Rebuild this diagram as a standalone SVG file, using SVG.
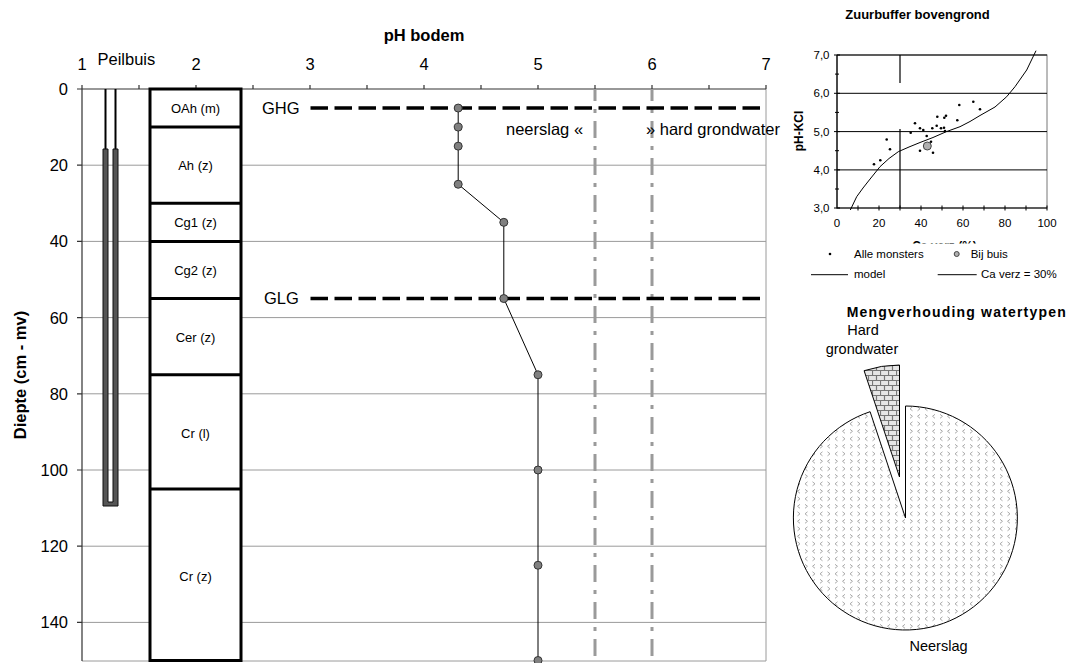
<svg xmlns="http://www.w3.org/2000/svg" width="1074" height="663" viewBox="0 0 1074 663">
<style>
text{font-family:"Liberation Sans",Arial,sans-serif;fill:#000}
.m{font-size:16.5px}
.lay{font-size:13px;text-anchor:middle}
.b{font-weight:bold}
.s{font-size:11.5px}
.grid{stroke:#9a9a9a;stroke-width:1;fill:none}
.ax{stroke:#333;stroke-width:1.2;fill:none}
.wl{stroke:#000;stroke-width:3.3;stroke-dasharray:17.5 6.5;fill:none}
.dd{stroke:#9a9a9a;stroke-width:3;stroke-dasharray:17 8 4 8;stroke-dashoffset:5;fill:none}
.pt{fill:#808080;stroke:#333;stroke-width:1}
.dot{fill:#000}
</style>
<defs>
<pattern id="chev" patternUnits="userSpaceOnUse" width="15" height="15">
<rect width="15" height="15" fill="#fff"/>
<path d="M2.5,1.8 L5,3.8 L2.5,5.8 M12.5,1.8 L10,3.8 L12.5,5.8 M5,9.3 L2.5,11.3 L5,13.3 M10,9.3 L12.5,11.3 L10,13.3" stroke="#aaa" stroke-width="1" fill="none"/>
</pattern>
<pattern id="brick" patternUnits="userSpaceOnUse" width="8" height="10">
<rect width="8" height="10" fill="#e6e6e6"/>
<path d="M0,0.5 H8 M0,5.5 H8 M0.5,0.5 V5.5 M4.5,5.5 V10" stroke="#777" stroke-width="1.2" fill="none"/>
</pattern>
<clipPath id="cut"><rect x="880" y="230" width="120" height="13.6"/></clipPath>
</defs>

<g id="main-chart">
<g id="gridlines">
<path class="grid" d="M82,165.2 H766 M82,241.4 H766 M82,317.6 H766 M82,393.8 H766 M82,470 H766 M82,546.2 H766 M82,622.4 H766"/>
<path class="grid" d="M766,89 V661 M82,661 H766"/>
</g>
<g id="axes">
<path class="ax" d="M82,89 H766 M82,89 V661"/>
<path class="ax" d="M82,85 V89 M139,85 V89 M196,85 V89 M253,85 V89 M310,85 V89 M367,85 V89 M424,85 V89 M481,85 V89 M538,85 V89 M595,85 V89 M652,85 V89 M709,85 V89 M766,85 V89"/>
<path class="ax" d="M77,89 H82 M77,165.2 H82 M77,241.4 H82 M77,317.6 H82 M77,393.8 H82 M77,470 H82 M77,546.2 H82 M77,622.4 H82"/>
<g class="m" text-anchor="middle">
<text x="82" y="70">1</text><text x="196" y="70">2</text><text x="310" y="70">3</text><text x="424" y="70">4</text><text x="538" y="70">5</text><text x="652" y="70">6</text><text x="766" y="70">7</text>
</g>
<g class="m" text-anchor="end">
<text x="68" y="95">0</text><text x="68" y="171">20</text><text x="68" y="247">40</text><text x="68" y="323.5">60</text><text x="68" y="399.5">80</text><text x="68" y="476">100</text><text x="68" y="552">120</text><text x="68" y="628">140</text>
</g>
<text class="m b" x="424" y="41" text-anchor="middle">pH bodem</text>
<text class="m b" transform="translate(26,375) rotate(-90)" text-anchor="middle">Diepte (cm - mv)</text>
</g>

<g id="peilbuis">
<text class="m" x="97.5" y="65">Peilbuis</text>
<path d="M105.5,89 V150 M115.5,89 V150" stroke="#000" stroke-width="2" fill="none"/>
<path d="M103,149 V506 H118 V149 H113 V502 H108 V149 Z" fill="#555" stroke="#111" stroke-width="1"/>
</g>

<g id="profiel">
<rect x="150" y="89" width="91" height="571.5" fill="#fff" stroke="#000" stroke-width="3"/>
<path d="M150,127.1 H241 M150,203.3 H241 M150,241.4 H241 M150,298.55 H241 M150,374.75 H241 M150,489.05 H241" stroke="#000" stroke-width="3"/>
<g id="layer-oah"><text class="lay" x="195.5" y="112.5">OAh (m)</text></g>
<g id="layer-ah"><text class="lay" x="195.5" y="169.5">Ah (z)</text></g>
<g id="layer-cg1"><text class="lay" x="195.5" y="226.8">Cg1 (z)</text></g>
<g id="layer-cg2"><text class="lay" x="195.5" y="274.5">Cg2 (z)</text></g>
<g id="layer-cer"><text class="lay" x="195.5" y="341.5">Cer (z)</text></g>
<g id="layer-crl"><text class="lay" x="195.5" y="437.5">Cr (l)</text></g>
<g id="layer-crz"><text class="lay" x="195.5" y="581">Cr (z)</text></g>
</g>

<g id="grenzen">
<path class="dd" d="M595,89 V661"/>
<path class="dd" d="M652,89 V661"/>
<text class="m" x="506" y="135">neerslag «</text>
<text class="m" x="646" y="135">» hard grondwater</text>
</g>

<g id="grondwaterstanden">
<text class="m" x="262" y="114">GHG</text>
<path class="wl" d="M310.5,108 H766"/>
<text class="m" x="264" y="304.3">GLG</text>
<path class="wl" d="M310.5,298.5 H766"/>
</g>

<g id="ph-reeks">
<path d="M458.2,108.05 V184.25 L503.8,222.35 V298.55 L538,374.75 V660.5" stroke="#000" stroke-width="1" fill="none"/>
<circle class="pt" cx="458.2" cy="108.05" r="4"/>
<circle class="pt" cx="458.2" cy="127.1" r="4"/>
<circle class="pt" cx="458.2" cy="146.15" r="4"/>
<circle class="pt" cx="458.2" cy="184.25" r="4"/>
<circle class="pt" cx="503.8" cy="222.35" r="4"/>
<circle class="pt" cx="503.8" cy="298.55" r="4"/>
<circle class="pt" cx="538" cy="374.75" r="4"/>
<circle class="pt" cx="538" cy="470" r="4"/>
<circle class="pt" cx="538" cy="565.25" r="4"/>
<circle class="pt" cx="538" cy="660.5" r="4"/>
</g>
</g>

<g id="zuurbuffer">
<text class="b" x="917.5" y="19" font-size="13" text-anchor="middle">Zuurbuffer bovengrond</text>
<rect x="837" y="55" width="210" height="153" fill="none" stroke="#777" stroke-width="1"/>
<path d="M837,55 H1047 M837,93.3 H1047 M837,131.6 H1047 M837,169.9 H1047" stroke="#000" stroke-width="1"/>
<path d="M900,55 V83 M900,129 V208" stroke="#000" stroke-width="1.2"/>
<path d="M837,55 V208 H1047" stroke="#000" stroke-width="1.2" fill="none"/>
<path d="M834,55 H840 M835,74.1 H839 M834,93.3 H840 M835,112.4 H839 M834,131.6 H840 M835,150.7 H839 M834,169.9 H840 M835,189 H839 M834,208 H840" stroke="#000" stroke-width="1"/>
<path d="M858,205.5 V210.5 M879,205.5 V210.5 M900,205.5 V210.5 M921,205.5 V210.5 M942,205.5 V210.5 M963,205.5 V210.5 M984,205.5 V210.5 M1005,205.5 V210.5 M1026,205.5 V210.5 M1047,205.5 V210.5" stroke="#000" stroke-width="1"/>
<g class="s" text-anchor="end">
<text x="829.5" y="59">7,0</text><text x="829.5" y="97.3">6,0</text><text x="829.5" y="135.6">5,0</text><text x="829.5" y="173.9">4,0</text><text x="829.5" y="212">3,0</text>
</g>
<g class="s" text-anchor="middle">
<text x="837" y="227">0</text><text x="879" y="227">20</text><text x="921" y="227">40</text><text x="963" y="227">60</text><text x="1005" y="227">80</text><text x="1047" y="227">100</text>
</g>
<text class="b" font-size="12" transform="translate(803,131) rotate(-90)" text-anchor="middle">pH-KCl</text>
<text class="b" font-size="12" x="944.5" y="250" text-anchor="middle" clip-path="url(#cut)">Ca verz (%)</text>
<polyline points="850.3,210 856.7,196.7 863,188 869.3,180 880,166.7 889,158.5 898.3,151.7 909,147 920,142.5 933,137.5 946.7,131.5 960,126.7 970,121.5 980,115.5 995,107 1006.7,96.7 1015,86.7 1026.7,70 1036,50.7" fill="none" stroke="#000" stroke-width="1"/>
<g id="monsters">
<circle class="dot" cx="915" cy="123.3" r="1.3"/><circle class="dot" cx="910.7" cy="132.7" r="1.3"/><circle class="dot" cx="920" cy="128.3" r="1.3"/><circle class="dot" cx="923.3" cy="130" r="1.3"/><circle class="dot" cx="926.7" cy="136" r="1.3"/><circle class="dot" cx="932.3" cy="128.3" r="1.3"/><circle class="dot" cx="936.7" cy="125.7" r="1.3"/><circle class="dot" cx="937.3" cy="116.7" r="1.3"/><circle class="dot" cx="946" cy="115.7" r="1.3"/><circle class="dot" cx="944.3" cy="117.7" r="1.3"/><circle class="dot" cx="941" cy="128.3" r="1.3"/><circle class="dot" cx="944" cy="127.7" r="1.3"/><circle class="dot" cx="945" cy="131" r="1.3"/><circle class="dot" cx="957.3" cy="120.3" r="1.3"/><circle class="dot" cx="959.3" cy="105" r="1.3"/><circle class="dot" cx="973.3" cy="101.7" r="1.3"/><circle class="dot" cx="980" cy="109.3" r="1.3"/><circle class="dot" cx="886.7" cy="139.5" r="1.3"/><circle class="dot" cx="890" cy="149.3" r="1.3"/><circle class="dot" cx="874" cy="164.3" r="1.3"/><circle class="dot" cx="880.3" cy="160.3" r="1.3"/><circle class="dot" cx="920" cy="150.7" r="1.3"/><circle class="dot" cx="931" cy="141.7" r="1.3"/><circle class="dot" cx="933" cy="152.7" r="1.3"/>
</g>
<circle cx="927.3" cy="146" r="4" fill="#b0b0b0" stroke="#444" stroke-width="1"/>
<g id="legenda" class="s">
<circle class="dot" cx="830" cy="254" r="1.3"/>
<text x="854" y="258">Alle monsters</text>
<circle cx="956.7" cy="254" r="2.5" fill="#b0b0b0" stroke="#444" stroke-width="1"/>
<text x="970.7" y="258">Bij buis</text>
<path d="M811,274.7 H848 M937.7,274.7 H976.7" stroke="#000" stroke-width="1"/>
<text x="854" y="277.5">model</text>
<text x="981" y="277.5">Ca verz = 30%</text>
</g>
</g>

<g id="mengverhouding">
<text class="b" x="846.7" y="316.7" font-size="14" textLength="219" lengthAdjust="spacing">Mengverhouding watertypen</text>
<g id="slice-neerslag">
<path d="M905.5,518 L905.5,406 A112,112 0 1,1 870.1,411.7 Z" fill="url(#chev)" stroke="#000" stroke-width="1"/>
<text x="938.5" y="650.7" font-size="14.5" text-anchor="middle">Neerslag</text>
</g>
<g id="slice-hard">
<path d="M899.5,477 L864.1,370.7 A112,112 0 0,1 899.5,365 Z" fill="url(#brick)" stroke="#000" stroke-width="1"/>
<text x="863" y="335" font-size="14.5" text-anchor="middle">Hard</text>
<text x="862" y="353.5" font-size="14.5" text-anchor="middle">grondwater</text>
</g>
</g>
</svg>
